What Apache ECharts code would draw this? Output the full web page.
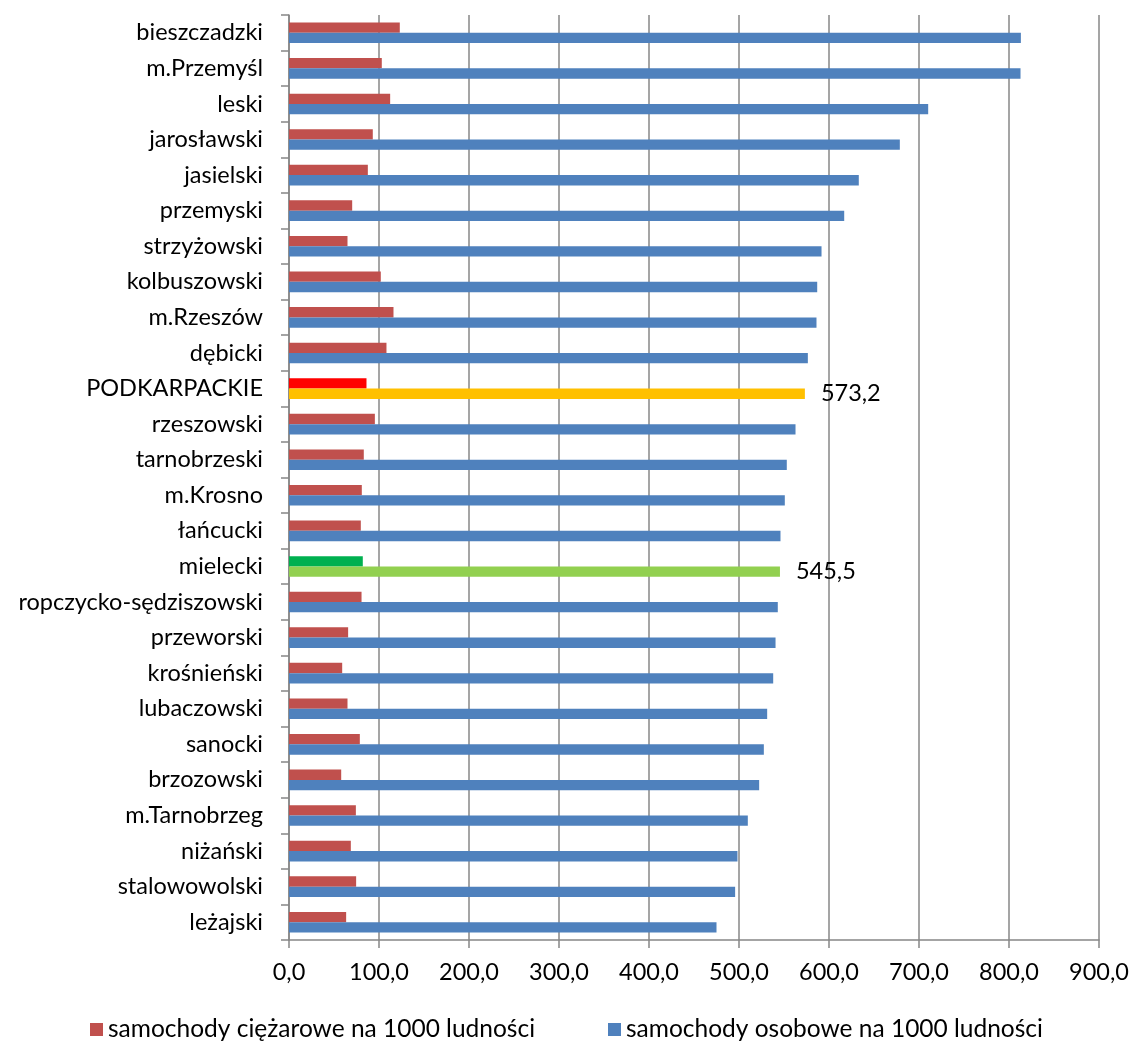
<!DOCTYPE html>
<html>
<head>
<meta charset="utf-8">
<script src="https://cdn.jsdelivr.net/npm/echarts@6/dist/echarts.min.js"></script>
<style>
html,body{margin:0;padding:0;background:#fff;}
#chart{width:1132px;height:1041px;}
</style>
</head>
<body>
<div id="chart"></div>
<script>
const categories = [
  'bieszczadzki','m.Przemyśl','leski','jarosławski','jasielski','przemyski','strzyżowski',
  'kolbuszowski','m.Rzeszów','dębicki','PODKARPACKIE','rzeszowski','tarnobrzeski','m.Krosno',
  'łańcucki','mielecki','ropczycko-sędziszowski','przeworski','krośnieński','lubaczowski',
  'sanocki','brzozowski','m.Tarnobrzeg','niżański','stalowowolski','leżajski'
];
const trucks = [
  123.1, 103.1, 112.4, 93.1, 87.6, 70.2, 65.0, 102.0, 116.1, 108.3, 86.1, 95.4, 83.1, 80.9,
  79.8, 82.0, 80.6, 65.7, 59.1, 65.0, 78.7, 58.0, 74.3, 68.7, 74.6, 63.5
];
const cars = [
  813.2, 812.8, 710.2, 678.7, 633.1, 616.9, 591.7, 586.9, 586.1, 576.5, 573.2, 562.8, 553.1, 550.9,
  546.1, 545.5, 543.1, 540.6, 538.0, 531.3, 527.6, 522.4, 509.8, 498.3, 495.7, 475.0
];
const seriesNames = ['samochody ciężarowe na 1000 ludności', 'samochody osobowe na 1000 ludności'];
const xMin = 0, xMax = 900, xStep = 100;

const highlight = {
  'PODKARPACKIE': { truck: '#FF0000', car: '#FFC000' },
  'mielecki': { truck: '#00B050', car: '#92D050' }
};
const fmt = v => Number(v).toFixed(1).replace('.', ',');
const FONT = 'Lato';

const truckData = trucks.map((v, i) => {
  const h = highlight[categories[i]];
  return h ? { value: v, itemStyle: { color: h.truck } } : v;
});
const carData = cars.map((v, i) => {
  const h = highlight[categories[i]];
  return h ? {
    value: v,
    itemStyle: { color: h.car },
    label: { show: true, position: 'right', distance: 16, formatter: p => fmt(p.value),
             color: '#000', fontFamily: FONT, fontSize: 23.5 }
  } : v;
});

const chart = echarts.init(document.getElementById('chart'), null, { renderer: 'canvas' });
const gridColor = '#878787';
chart.setOption({
  animation: false,
  backgroundColor: '#fff',
  textStyle: { fontFamily: FONT, color: '#000' },
  grid: { left: 289, top: 15, width: 810, height: 925, containLabel: false },
  xAxis: {
    type: 'value', min: xMin, max: xMax, interval: xStep,
    axisLine: { show: true, lineStyle: { color: gridColor, width: 1.5 } },
    axisTick: { show: true, length: 8, lineStyle: { color: gridColor, width: 1.5 } },
    splitLine: { show: true, lineStyle: { color: gridColor, width: 1.5 } },
    axisLabel: { formatter: fmt, fontSize: 23.5, color: '#000', fontFamily: FONT, margin: 20 }
  },
  yAxis: {
    type: 'category', data: categories, inverse: true,
    axisLine: { show: true, lineStyle: { color: gridColor, width: 1.5 } },
    axisTick: { show: true, length: 8, lineStyle: { color: gridColor, width: 1.5 } },
    axisLabel: { fontSize: 23.5, color: '#000', fontFamily: FONT, margin: 26 }
  },
  legend: [
    { data: [seriesNames[0]], left: 85, top: 1012, icon: 'rect', itemWidth: 13, itemHeight: 13,
      textStyle: { fontSize: 24.5, fontFamily: FONT, color: '#000' } },
    { data: [seriesNames[1]], left: 603, top: 1012, icon: 'rect', itemWidth: 13, itemHeight: 13,
      textStyle: { fontSize: 24.5, fontFamily: FONT, color: '#000' } }
  ],
  series: [
    { name: seriesNames[0], type: 'bar', data: truckData, barGap: '0%', barCategoryGap: '42%',
      itemStyle: { color: '#C0504D' } },
    { name: seriesNames[1], type: 'bar', data: carData, barGap: '0%', barCategoryGap: '42%',
      itemStyle: { color: '#4F81BD' } }
  ]
});
</script>
</body>
</html>
